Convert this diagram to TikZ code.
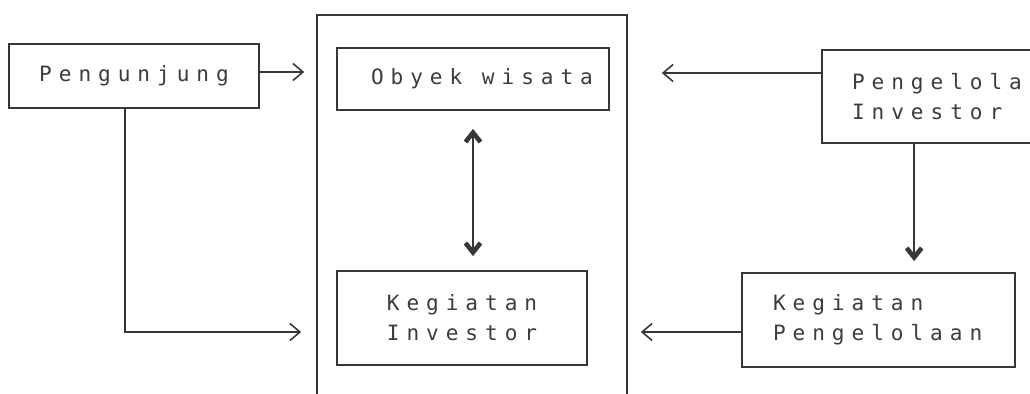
\documentclass[tikz,border=0pt]{standalone}
\usepackage{fontspec}
\setmonofont{DejaVu Sans Mono}[LetterSpace=33]
\usepackage{xcolor}
\usepackage{tikz}
\usetikzlibrary{arrows.meta, positioning, calc}
\definecolor{mydark}{RGB}{55,55,55}
\definecolor{mytext}{RGB}{60,60,60}
\tikzset{
  block/.style={rectangle, draw=mydark, line width=1pt, inner sep=0pt,
    font=\ttfamily\fontsize{12}{17}\selectfont, text=mytext, align=left},
  arrow/.style={-{Straight Barb[length=2mm,width=3.4mm]}, line width=0.9pt, color=mydark},
  boldarrow/.style={-{Straight Barb[length=1.9mm,width=3mm,line width=2.6pt]}, line width=1pt, color=mydark},
  dblarrow/.style={{Straight Barb[length=1.9mm,width=3mm,line width=2.6pt]}-{Straight Barb[length=1.9mm,width=3mm,line width=2.6pt]},
    line width=1pt, color=mydark},
  line/.style={line width=0.9pt, color=mydark}
}

\begin{document}
\begin{tikzpicture}[x=0.02cm, y=-0.02cm]
  \useasboundingbox[fill=white] (0,0) rectangle (1030,394);

  \node[block, minimum width=5cm, minimum height=1.28cm] (peng) at (134,76) {Pengunjung};
  \node[draw=mydark, line width=1pt, minimum width=6.2cm, minimum height=7.9cm] (area) at (472,212.5) {};
  \node[block, minimum width=5.44cm, minimum height=1.24cm] (obyek) at (473,79) {\hspace*{0.36cm}Obyek wisata};
  \node[block, minimum width=5cm, minimum height=1.88cm] (kinv) at (462,318) {Kegiatan\\Investor};
  \node[block, minimum width=4.76cm, minimum height=1.86cm, text width=3.56cm] (pinv) at (941,96.5) {Pengelola\\Investor};
  \node[block, minimum width=5.46cm, minimum height=1.88cm, text width=4.22cm] (kpen) at (878.5,320) {Kegiatan\\Pengelolaan};

  \draw[arrow, shorten >=0.24cm] ([yshift=0.08cm]peng.east) -- ([yshift=0.08cm]peng.east -| area.west);
  \draw[arrow, shorten >=0.3cm] ([xshift=-0.18cm]peng.south) |- ([yshift=-0.28cm]area.west |- kinv.west);
  \draw[arrow, shorten >=0.68cm] ([yshift=0.47cm]pinv.west) -- ([yshift=0.47cm]pinv.west -| area.east);
  \draw[arrow, shorten >=0.26cm] ([yshift=-0.24cm]kpen.west) -- ([yshift=-0.24cm]kpen.west -| area.east);
  \draw[dblarrow, shorten <=0.36cm, shorten >=0.28cm] (obyek.south) -- (obyek.south |- kinv.north);
  \draw[boldarrow, shorten >=0.22cm] ([xshift=1.86cm]pinv.south west) -- ([xshift=1.86cm]pinv.south west |- kpen.north);
\end{tikzpicture}
\end{document}
